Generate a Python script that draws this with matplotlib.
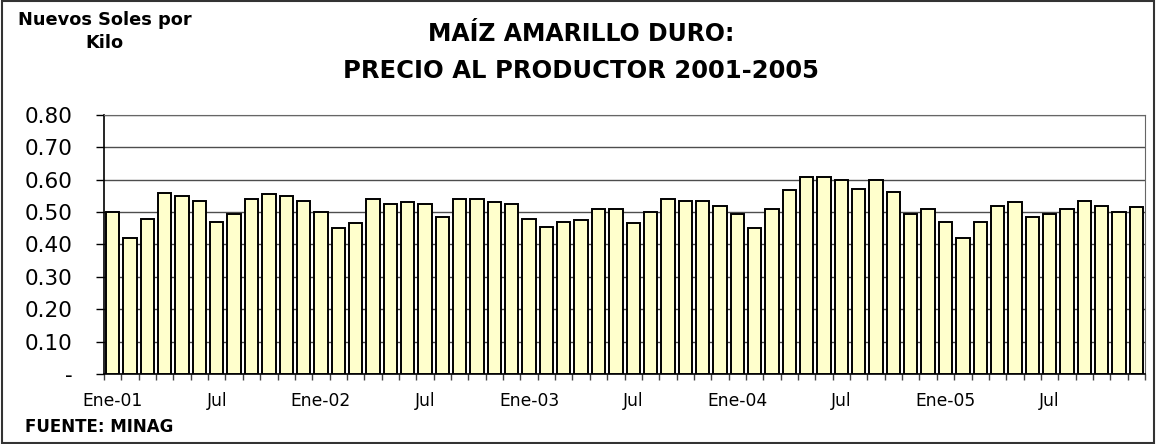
import matplotlib
matplotlib.use('Agg')
import matplotlib.pyplot as plt
from matplotlib.patches import Rectangle
import numpy as np

# monthly producer price, Ene-2001 .. Dic-2005 (Nuevos Soles por kilo)
precios = [0.50, 0.42, 0.48, 0.56, 0.55, 0.535, 0.47, 0.495, 0.54, 0.555, 0.55, 0.535,
           0.50, 0.45, 0.465, 0.54, 0.525, 0.53, 0.525, 0.485, 0.54, 0.54, 0.53, 0.525,
           0.48, 0.455, 0.47, 0.475, 0.51, 0.51, 0.465, 0.50, 0.54, 0.535, 0.535, 0.52,
           0.495, 0.45, 0.51, 0.567, 0.61, 0.61, 0.60, 0.57, 0.60, 0.563, 0.495, 0.51,
           0.47, 0.42, 0.47, 0.52, 0.53, 0.485, 0.495, 0.51, 0.535, 0.52, 0.50, 0.515]
etiquetas = ['Ene-01', 'Jul', 'Ene-02', 'Jul', 'Ene-03', 'Jul', 'Ene-04', 'Jul', 'Ene-05', 'Jul']
y_ticks = [0.0, 0.1, 0.2, 0.3, 0.4, 0.5, 0.6, 0.7, 0.8]
y_labels = ['-', '0.10', '0.20', '0.30', '0.40', '0.50', '0.60', '0.70', '0.80']

# the original is a stretched excel chart, so use the wider DejaVu face
plt.rcParams['font.family'] = ['DejaVu Sans']

fig = plt.figure(figsize=(11.56, 4.44), dpi=100)
ax = fig.add_axes([0.0900, 0.1577, 0.9005, 0.5833])

x = np.arange(len(precios))
ax.bar(x, precios, width=0.77, color='#FFFFCC', edgecolor='black', linewidth=1.4, zorder=3)

ax.set_xlim(-0.5, len(precios) - 0.5)
ax.set_ylim(0, 0.8)
ax.set_yticks(y_ticks)
ax.set_yticklabels(y_labels, fontsize=15.5)
ax.yaxis.grid(True, color='#4d4d4d', linewidth=1.0, zorder=0)
ax.tick_params(axis='y', length=5.8, width=1, pad=17)

# labels at every 6th bar, ticks at category boundaries
ax.set_xticks(x[::6])
ax.set_xticklabels(etiquetas, fontsize=12.3)
ax.set_xticks(np.arange(-0.5, len(precios), 1), minor=True)
ax.tick_params(axis='x', which='major', length=0, pad=13)
ax.tick_params(axis='x', which='minor', length=4.5, width=1, color='#444444')

for s in ['top', 'right']:
    ax.spines[s].set_color('#666666')
ax.spines['left'].set_linewidth(1.2)
ax.spines['bottom'].set_linewidth(1.2)

fig.text(0.503, 0.923, 'MAÍZ AMARILLO DURO:', ha='center', va='center',
         fontsize=17, fontweight='bold')
fig.text(0.503, 0.840, 'PRECIO AL PRODUCTOR 2001-2005', ha='center', va='center',
         fontsize=17.5, fontweight='bold')
fig.text(0.0904, 0.955, 'Nuevos Soles por', ha='center', va='center',
         fontsize=12.8, fontweight='bold')
fig.text(0.0904, 0.903, 'Kilo', ha='center', va='center',
         fontsize=12.8, fontweight='bold')
fig.text(0.0216, 0.038, 'FUENTE: MINAG', ha='left', va='center',
         fontsize=12, fontweight='bold')

# border round the whole chart
fig.patches.append(Rectangle((0.002, 0.003), 0.996, 0.994, transform=fig.transFigure,
                             fill=False, edgecolor='#333333', linewidth=1.5))

fig.savefig('out.png', dpi=100)
